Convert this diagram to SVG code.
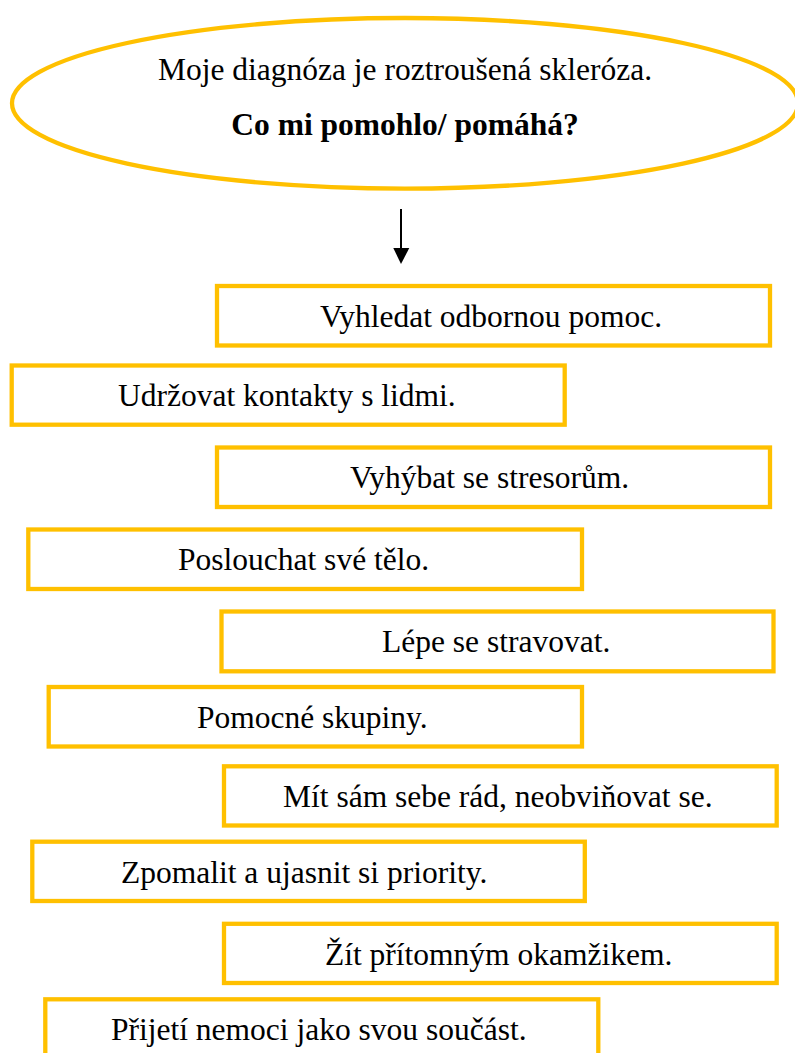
<svg xmlns="http://www.w3.org/2000/svg" width="795" height="1053" viewBox="0 0 795 1053">
<defs>
<style>
.box{fill:#FFFFFF;stroke:#FFC000;stroke-width:4.3}
.t{font-family:"Liberation Serif","Times New Roman",serif;font-size:31.5px;fill:#000000}
.b{font-weight:bold}
.conn{stroke:#000000;stroke-width:2;fill:none}
</style>
<marker id="arr" markerWidth="8" markerHeight="8" refX="8" refY="4" orient="auto" markerUnits="userSpaceOnUse" viewBox="0 0 8 8">
<path d="M0,0 L8,4 L0,8 Z" fill="#000000"/>
</marker>
</defs>
<rect width="795" height="1053" fill="#FFFFFF"/>
<g id="start">
<ellipse class="box" cx="405" cy="103.3" rx="393" ry="85.3"/>
<text class="t" x="405" y="80" text-anchor="middle">Moje diagnóza je roztroušená skleróza.</text>
<text class="t b" x="405" y="135" text-anchor="middle">Co mi pomohlo/ pomáhá?</text>
</g>
<g id="connectors">
<line class="conn" x1="401" y1="209" x2="401" y2="250"/>
<path d="M393.3,248 L409.3,248 L401,264 Z" fill="#000000"/>
</g>
<g id="n1"><rect class="box" x="217" y="286" width="553" height="59.5"/><text class="t" x="320" y="326.7">Vyhledat odbornou pomoc.</text></g>
<g id="n2"><rect class="box" x="11.7" y="365.5" width="553" height="59.2"/><text class="t" x="118" y="406">Udržovat kontakty s lidmi.</text></g>
<g id="n3"><rect class="box" x="217" y="447.5" width="553" height="59.5"/><text class="t" x="350" y="488">Vyhýbat se stresorům.</text></g>
<g id="n4"><rect class="box" x="28.3" y="529.5" width="553.7" height="59.5"/><text class="t" x="178" y="570">Poslouchat své tělo.</text></g>
<g id="n5"><rect class="box" x="221.5" y="611.5" width="552" height="59.8"/><text class="t" x="382" y="652">Lépe se stravovat.</text></g>
<g id="n6"><rect class="box" x="48.7" y="687" width="533.3" height="59.5"/><text class="t" x="197" y="727.5">Pomocné skupiny.</text></g>
<g id="n7"><rect class="box" x="224" y="766.3" width="552.7" height="59.2"/><text class="t" x="283" y="807">Mít sám sebe rád, neobviňovat se.</text></g>
<g id="n8"><rect class="box" x="32.3" y="841.7" width="552.5" height="59.3"/><text class="t" x="121" y="882.7">Zpomalit a ujasnit si priority.</text></g>
<g id="n9"><rect class="box" x="224" y="923.8" width="552.7" height="59.2"/><text class="t" x="325" y="964.5">Žít přítomným okamžikem.</text></g>
<g id="n10"><rect class="box" x="45.3" y="999.3" width="553" height="80"/><text class="t" x="111" y="1040">Přijetí nemoci jako svou součást.</text></g>
</svg>
